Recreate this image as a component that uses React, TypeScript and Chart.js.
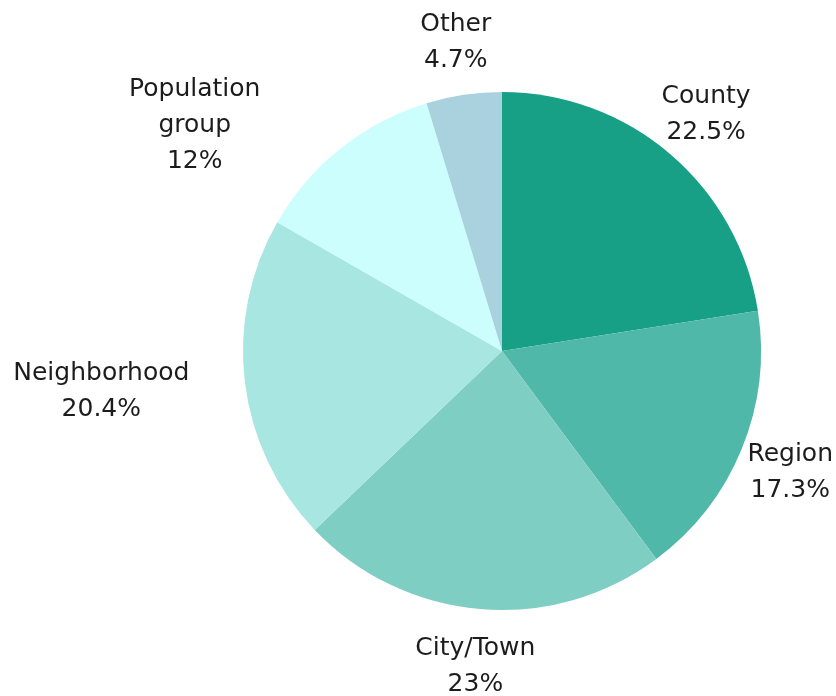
import React, { useEffect, useRef } from "react";
import { Chart, registerables } from "chart.js";

Chart.register(...registerables);

const categories = ["County", "Region", "City/Town", "Neighborhood", "Population group", "Other"];
const shares = [22.5, 17.3, 23, 20.4, 12, 4.7];
const valueLabels = ["22.5%", "17.3%", "23%", "20.4%", "12%", "4.7%"];
const colors = ["#17a086", "#50b8a8", "#7ecec4", "#a8e6e2", "#ccfefe", "#a9d2de"];

const FONT = '25px "DejaVu Sans"';
const TEXT_COLOR = "#1c1c1c";
const LINE_H = 36;
const CAP_H = 18;
const GAP = 55;
const WRAP_W = 200;

function wrapText(ctx: CanvasRenderingContext2D, text: string, maxW: number): string[] {
  const words = text.split(" ");
  const out: string[] = [];
  let cur = "";
  for (const w of words) {
    const t = cur ? cur + " " + w : w;
    if (cur && ctx.measureText(t).width > maxW) {
      out.push(cur);
      cur = w;
    } else {
      cur = t;
    }
  }
  if (cur) out.push(cur);
  return out;
}

const outerLabels = {
  id: "outerLabels",
  afterDatasetsDraw(chart: any) {
    const ctx: CanvasRenderingContext2D = chart.ctx;
    const meta = chart.getDatasetMeta(0);
    ctx.save();
    ctx.font = FONT;
    ctx.fillStyle = TEXT_COLOR;
    ctx.textAlign = "center";
    ctx.textBaseline = "alphabetic";
    meta.data.forEach((arc: any, i: number) => {
      const { x, y, startAngle, endAngle, outerRadius } = arc.getProps(
        ["x", "y", "startAngle", "endAngle", "outerRadius"],
        true
      );
      const mid = (startAngle + endAngle) / 2;
      const R = outerRadius + GAP;
      let cx = x + R * Math.cos(mid);
      const py = y + R * Math.sin(mid);
      const lines = [...wrapText(ctx, categories[i], WRAP_W), valueLabels[i]];
      const w = Math.max(...lines.map((l) => ctx.measureText(l).width));
      const centers = lines.map((_, k) => py - LINE_H / 2 + k * LINE_H);
      const top = centers[0] - CAP_H / 2;
      const bottom = centers[centers.length - 1] + CAP_H / 2;
      const nx = Math.max(cx - w / 2, Math.min(x, cx + w / 2));
      const ny = Math.max(top, Math.min(y, bottom));
      if (Math.hypot(nx - x, ny - y) < outerRadius) {
        const dir = Math.cos(mid) < 0 ? -1 : 1;
        const y0 = centers[0] + LINE_H / 4;
        const y1 = centers[centers.length - 1] - LINE_H / 4;
        const yy = Math.max(y0, Math.min(y, y1));
        const dy = yy - y;
        const half = Math.sqrt(Math.max(0, R * R - dy * dy));
        cx = dir < 0 ? x - half - w / 2 : x + half + w / 2;
      }
      cx = Math.max(w / 2 + 3, Math.min(chart.width - w / 2 - 3, cx));
      lines.forEach((l, k) => ctx.fillText(l, cx, centers[k] + CAP_H / 2));
    });
    ctx.restore();
  },
};

export default function App() {
  const ref = useRef<HTMLCanvasElement | null>(null);
  useEffect(() => {
    if (!ref.current) return;
    const chart = new Chart(ref.current, {
      type: "pie",
      data: {
        labels: categories,
        datasets: [
          {
            data: shares,
            backgroundColor: colors,
            borderWidth: 0,
          },
        ],
      },
      options: {
        responsive: true,
        maintainAspectRatio: false,
        animation: false,
        layout: { padding: { left: 243, right: 75, top: 92, bottom: 86 } },
        plugins: {
          legend: { display: false },
          tooltip: { enabled: false },
        },
      },
      plugins: [outerLabels],
    });
    return () => chart.destroy();
  }, []);
  return (
    <div style={{ position: "fixed", left: 0, top: 0, width: 836, height: 696, background: "#fff" }}>
      <canvas ref={ref} />
    </div>
  );
}
